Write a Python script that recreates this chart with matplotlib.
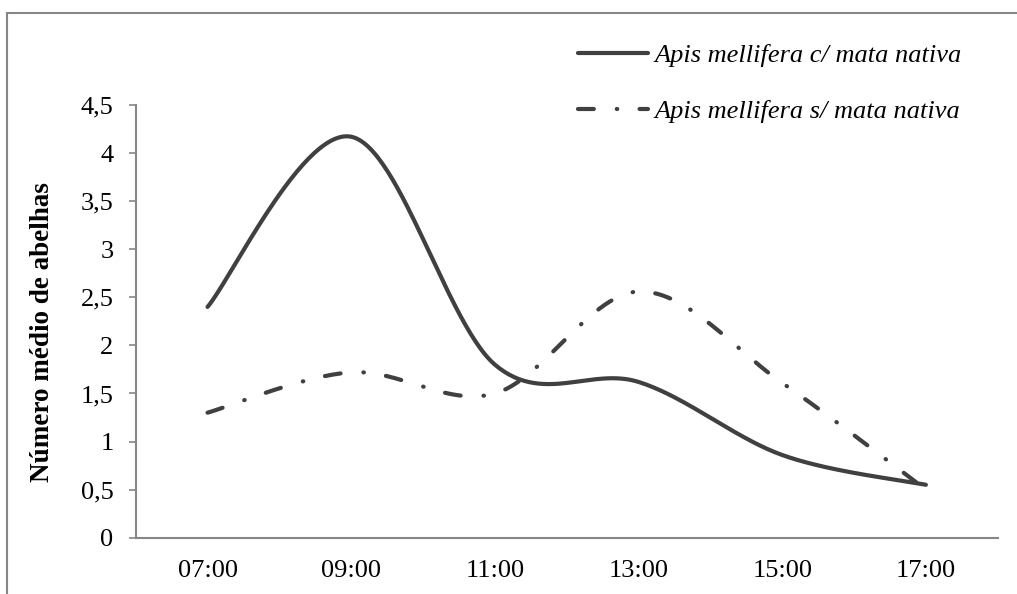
import numpy as np
import matplotlib
matplotlib.use("Agg")
import matplotlib.pyplot as plt
from matplotlib.patches import Rectangle

categories = ["07:00", "09:00", "11:00", "13:00", "15:00", "17:00"]
com_mata = [2.4, 4.17, 1.8, 1.62, 0.86, 0.55]
sem_mata = [1.3, 1.72, 1.5, 2.56, 1.61, 0.5]
series_names = ["Apis mellifera c/ mata nativa", "Apis mellifera s/ mata nativa"]
yticks = [0, 0.5, 1, 1.5, 2, 2.5, 3, 3.5, 4, 4.5]
ytick_labels = ["0", "0,5", "1", "1,5", "2", "2,5", "3", "3,5", "4", "4,5"]


def smooth(xs, ys, n=60):
    """Excel-like smoothed line: cubic Bezier through each point (Catmull-Rom tangents)."""
    P = np.column_stack([xs, ys]).astype(float)
    m = len(P)
    out = []
    for i in range(m - 1):
        p0 = P[max(i - 1, 0)]
        p1 = P[i]
        p2 = P[i + 1]
        p3 = P[min(i + 2, m - 1)]
        c1 = p1 + (p2 - p0) / 6.0
        c2 = p2 - (p3 - p1) / 6.0
        t = np.linspace(0, 1, n)[:, None]
        seg = ((1 - t) ** 3) * p1 + 3 * ((1 - t) ** 2) * t * c1 + 3 * (1 - t) * t ** 2 * c2 + t ** 3 * p2
        out.append(seg if i == 0 else seg[1:])
    pts = np.vstack(out)
    return pts[:, 0], pts[:, 1]


plt.rcParams["font.family"] = ["Liberation Serif", "DejaVu Serif"]

W, H = 1017, 594
fig = plt.figure(figsize=(W / 100, H / 100), dpi=100)

# outer chart border (Excel chart area)
fig.patches.append(Rectangle((7 / W, -0.1), 1.2, 1 - 13 / H + 0.1, transform=fig.transFigure,
                             fill=False, edgecolor="#868686", linewidth=1.5))

ax = fig.add_axes([135.7 / W, 1 - 537.7 / H, (997.7 - 135.7) / W, (537.7 - 105) / H])

x = np.arange(len(categories))
col = "#404040"
lw = 3.0
xs, ys = smooth(x, com_mata)
ax.plot(xs, ys, color=col, lw=lw, solid_capstyle="round", label=series_names[0])
xs, ys = smooth(x, sem_mata)
ax.plot(xs, ys, color=col, lw=lw, linestyle=(0, (3.8, 5.5, 0.12, 5.35)),
        dash_capstyle="round", label=series_names[1])

ax.set_xlim(-0.5, len(categories) - 0.5)
ax.set_ylim(0, 4.5)
ax.set_xticks(x)
ax.set_xticklabels(categories, fontsize=19)
ax.set_yticks(yticks)
ax.set_yticklabels(ytick_labels, fontsize=19)
ax.tick_params(axis="x", length=0, pad=16)
ax.tick_params(axis="y", direction="out", length=5, width=1.2, color="#868686", pad=11)
for s in ["top", "right"]:
    ax.spines[s].set_visible(False)
for s in ["left", "bottom"]:
    ax.spines[s].set_color("#868686")
    ax.spines[s].set_linewidth(1.5)

fig.text(43 / W, 1 - 332 / H, "Número médio de abelhas", rotation=90, fontsize=19.5,
         fontweight="bold", ha="center", va="center")

leg = fig.legend(loc="upper left", bbox_to_anchor=(578 / W, 1 - 44 / H), frameon=False,
                 prop={"style": "italic", "size": 19}, handlelength=2.65, handletextpad=0.25,
                 labelspacing=1.22, borderpad=0, borderaxespad=0)

fig.savefig("out.png", dpi=100)
